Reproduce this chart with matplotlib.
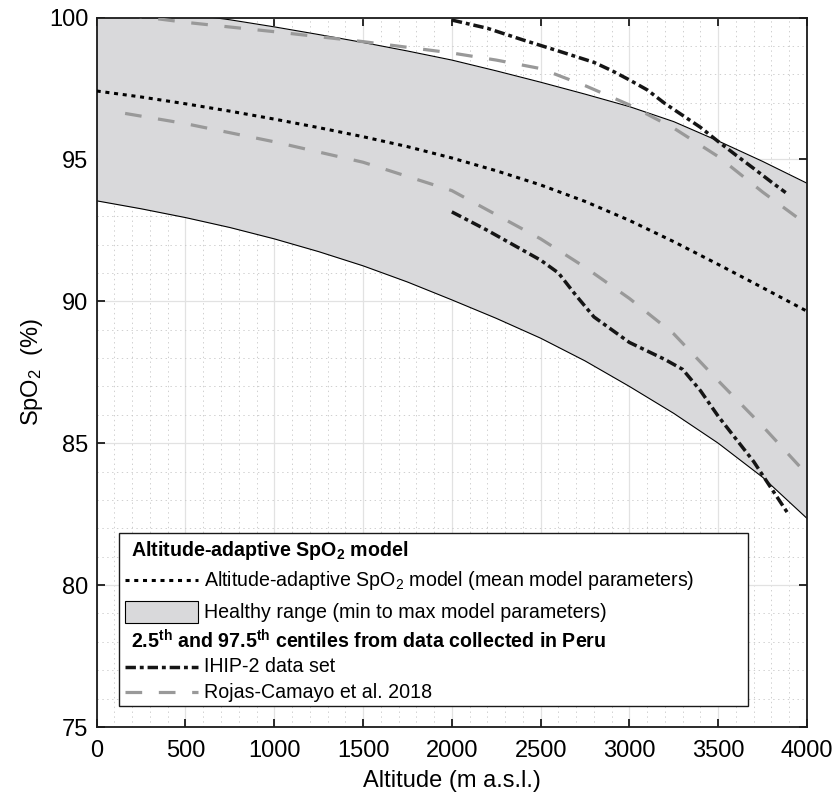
import matplotlib
matplotlib.use("Agg")
import matplotlib.pyplot as plt
from matplotlib.lines import Line2D
from matplotlib.patches import Rectangle

plt.rcParams["font.family"] = ["Liberation Sans", "DejaVu Sans"]
plt.rcParams["mathtext.fontset"] = "custom"
plt.rcParams["mathtext.rm"] = "Liberation Sans"
plt.rcParams["mathtext.it"] = "Liberation Sans:italic"
plt.rcParams["mathtext.bf"] = "Liberation Sans:bold"
plt.rcParams["lines.scale_dashes"] = False

# model curves
alt_model = [0, 250, 500, 750, 1000, 1250, 1500, 1750, 2000, 2250, 2500, 2750, 3000, 3250, 3500, 3750, 4000]
spo2_mean = [97.41, 97.2, 96.96, 96.7, 96.42, 96.12, 95.8, 95.45, 95.05, 94.6, 94.1, 93.52, 92.85, 92.1, 91.3, 90.48, 89.65]
spo2_max = [100.4, 100.3, 100.13, 99.92, 99.67, 99.4, 99.12, 98.82, 98.5, 98.12, 97.72, 97.3, 96.86, 96.33, 95.65, 94.93, 94.16]
spo2_min = [93.54, 93.26, 92.95, 92.6, 92.2, 91.75, 91.25, 90.68, 90.05, 89.4, 88.7, 87.9, 87.0, 86.05, 85.0, 83.8, 82.35]

# Rojas-Camayo et al. 2018 centiles
alt_rojas = [160, 500, 1000, 1500, 2000, 2250, 2500, 2750, 3000, 3250, 3500, 3750, 4000]
rojas_hi = [100.1, 99.83, 99.5, 99.15, 98.75, 98.5, 98.2, 97.6, 96.92, 96.1, 95.1, 93.85, 92.7]
rojas_lo = [96.62, 96.26, 95.62, 94.9, 93.9, 93.05, 92.2, 91.2, 90.1, 88.85, 87.2, 85.6, 83.9]

# IHIP-2 centiles
alt_ihip_hi = [2000, 2200, 2400, 2600, 2800, 2900, 3000, 3100, 3200, 3300, 3400, 3500, 3600, 3700, 3800, 3880]
ihip_hi = [99.91, 99.62, 99.21, 98.82, 98.42, 98.13, 97.8, 97.45, 96.97, 96.55, 96.13, 95.63, 95.15, 94.68, 94.2, 93.83]
alt_ihip_lo = [2000, 2200, 2400, 2500, 2600, 2700, 2800, 2900, 3000, 3100, 3200, 3300, 3400, 3500, 3600, 3700, 3800, 3890]
ihip_lo = [93.15, 92.5, 91.8, 91.45, 91.0, 90.2, 89.45, 89.0, 88.55, 88.25, 87.95, 87.6, 86.85, 85.95, 85.15, 84.35, 83.4, 82.55]

BAND = "#d9d9db"
DOT = dict(color="black", lw=2.2, dashes=(2.9, 3.4))
IHIP = dict(color="#151515", lw=2.5, dashes=(7.5, 2.8, 2.8, 2.8))
ROJAS = dict(color="#999999", lw=2.3, dashes=(12, 12))

fig = plt.figure(figsize=(8.32, 7.92), dpi=100)
ax = fig.add_axes([96.7 / 832, 1 - 727 / 792, 710.3 / 832, 709.5 / 792])

ax.fill_between(alt_model, spo2_min, spo2_max, color=BAND, lw=0, zorder=1)
ax.plot(alt_model, spo2_max, color="black", lw=0.8, zorder=2)
ax.plot(alt_model, spo2_min, color="black", lw=0.8, zorder=2)
ax.plot(alt_model, spo2_mean, zorder=3, **DOT)
ax.plot(alt_rojas, rojas_hi, zorder=3, **ROJAS)
ax.plot(alt_rojas, rojas_lo, zorder=3, **ROJAS)
ax.plot(alt_ihip_hi, ihip_hi, zorder=4, **IHIP)
ax.plot(alt_ihip_lo, ihip_lo, zorder=4, **IHIP)

ax.set_xlim(0, 4000)
ax.set_ylim(75, 100)
ax.set_xticks(range(0, 4001, 500))
ax.set_yticks(range(75, 101, 5))
ax.set_xticks(range(0, 4001, 100), minor=True)
ax.set_yticks(range(75, 101, 1), minor=True)
ax.set_axisbelow(True)
ax.grid(which="major", color="#e2e2e2", lw=0.9, ls="-")
ax.grid(which="minor", color="#c8c8c8", lw=0.6, ls=(0, (1, 2.5)))
ax.tick_params(which="major", direction="in", length=6, width=1.3, top=True, right=True,
               labelsize=17, color="#1a1a1a")
ax.tick_params(axis="x", which="major", pad=9.5)
ax.tick_params(axis="y", which="major", pad=6)
ax.tick_params(which="minor", length=0)
for s in ax.spines.values():
    s.set_linewidth(1.3)
    s.set_color("#1a1a1a")

ax.set_xlabel("Altitude (m a.s.l.)", fontsize=17, labelpad=5.5)
ax.set_ylabel("SpO$_2$  (%)", fontsize=17, labelpad=3)


# hand-built legend box (pixel positions converted to axes fractions)
def ax_xy(px, py):
    return (px - 96.7) / 710.3, (727 - py) / 709.5


T = ax.transAxes
x0, y0 = ax_xy(119, 706)
x1, y1 = ax_xy(748, 533)
ax.add_patch(Rectangle((x0, y0), x1 - x0, y1 - y0, transform=T, facecolor="white",
                       edgecolor="#1a1a1a", lw=1.0, zorder=10))

fs = 14.1
hx, _ = ax_xy(131, 0)
lx0, _ = ax_xy(125, 0)
lx1, _ = ax_xy(198, 0)
tx, _ = ax_xy(204, 0)

_, r = ax_xy(0, 551)
ax.text(hx, r, r"Altitude-adaptive SpO$_\mathbf{2}$ model", transform=T, fontsize=fs,
        fontweight="bold", va="center", ha="left", zorder=11)

_, r = ax_xy(0, 580)
ax.add_line(Line2D([lx0, lx1], [r, r], transform=T, zorder=11, **DOT))
ax.text(tx, r, "Altitude-adaptive SpO$_2$ model (mean model parameters)", transform=T,
        fontsize=fs, va="center", ha="left", zorder=11)

_, r = ax_xy(0, 612)
_, ra = ax_xy(0, 623)
_, rb = ax_xy(0, 601)
ax.add_patch(Rectangle((lx0, ra), lx1 - lx0, rb - ra, transform=T, facecolor=BAND,
                       edgecolor="black", lw=0.8, zorder=11))
ax.text(tx, r, "Healthy range (min to max model parameters)", transform=T, fontsize=fs,
        va="center", ha="left", zorder=11)

_, r = ax_xy(0, 641)
ax.text(hx, r, r"2.5$^\mathbf{th}$ and 97.5$^\mathbf{th}$ centiles from data collected in Peru",
        transform=T, fontsize=fs, fontweight="bold", va="center", ha="left", zorder=11)

_, r = ax_xy(0, 667)
ax.add_line(Line2D([lx0, lx1], [r, r], transform=T, zorder=11, **IHIP))
ax.text(tx, r, "IHIP-2 data set", transform=T, fontsize=fs, va="center", ha="left", zorder=11)

_, r = ax_xy(0, 692)
ax.add_line(Line2D([lx0, lx1], [r, r], transform=T, zorder=11, **ROJAS))
ax.text(tx, r, "Rojas-Camayo et al. 2018", transform=T, fontsize=fs, va="center",
        ha="left", zorder=11)

fig.savefig("out.png", dpi=100)
